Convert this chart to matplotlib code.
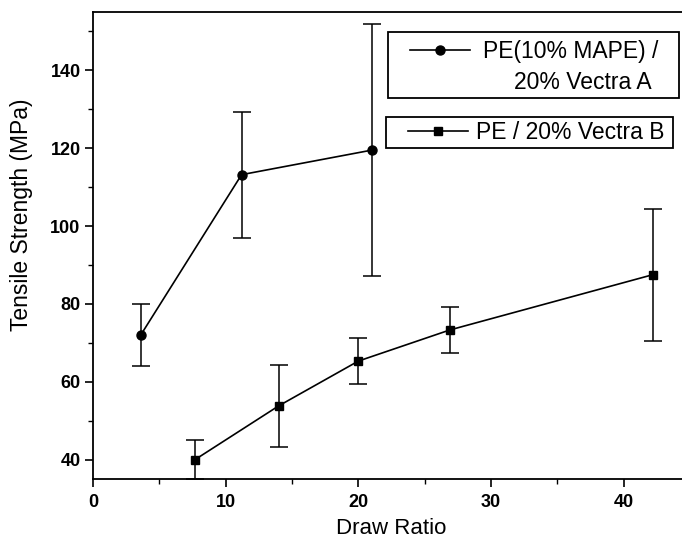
import matplotlib

matplotlib.use("Agg")
import matplotlib.pyplot as plt
from matplotlib.patches import Rectangle
from matplotlib.ticker import MultipleLocator

# PE(10% MAPE) / 20% Vectra A
draw_a = [3.6, 11.2, 21.0]
strength_a = [72.0, 113.2, 119.5]
err_a = [8.0, 16.2, 32.3]

# PE / 20% Vectra B
draw_b = [7.7, 14.0, 20.0, 26.9, 42.2]
strength_b = [40.0, 53.8, 65.3, 73.3, 87.5]
err_b = [5.1, 10.6, 6.0, 6.0, 17.0]

label_a = "PE(10% MAPE) /"
label_a2 = "20% Vectra A"
label_b = "PE / 20% Vectra B"

plt.rcParams.update({
    "font.family": ["Liberation Sans", "DejaVu Sans"],
    "axes.linewidth": 1.3,
})

fig = plt.figure(figsize=(6.82, 5.43), dpi=100)
ax = fig.add_axes([93 / 682, 64 / 543, 597 / 682, 467 / 543])

ax.errorbar(draw_a, strength_a, yerr=err_a, fmt="none", ecolor="black",
            elinewidth=1.1, capsize=6.5, capthick=1.1)
ax.errorbar(draw_b, strength_b, yerr=err_b, fmt="none", ecolor="black",
            elinewidth=1.1, capsize=6.5, capthick=1.1)
line_a, = ax.plot(draw_a, strength_a, "-o", color="black", lw=1.2, ms=6.5)
line_b, = ax.plot(draw_b, strength_b, "-s", color="black", lw=1.2, ms=6)

ax.set_xlim(0, 45)
ax.set_ylim(35, 155)
ax.spines["right"].set_visible(False)
ax.xaxis.set_major_locator(MultipleLocator(10))
ax.xaxis.set_minor_locator(MultipleLocator(5))
ax.yaxis.set_major_locator(MultipleLocator(20))
ax.yaxis.set_minor_locator(MultipleLocator(10))
ax.set_yticks([40, 60, 80, 100, 120, 140])
ax.tick_params(which="major", direction="out", length=6, width=1.2,
               labelsize=13, pad=3)
ax.tick_params(axis="x", which="major", pad=5)
ax.tick_params(which="minor", direction="out", length=3.5, width=1.0)
for lab in ax.get_xticklabels() + ax.get_yticklabels():
    lab.set_fontweight("bold")

ax.set_xlabel("Draw Ratio", fontsize=16)
ax.set_ylabel("Tensile Strength (MPa)", fontsize=16.5)
ax.xaxis.set_label_coords(0.5, -0.083)
ax.yaxis.set_label_coords(-0.10, 0.565)

# legend boxes (two separate framed entries)
leg_a = ax.legend([line_a], [label_a], loc="center left",
                  bbox_to_anchor=(0.531, 0.916), frameon=False, borderpad=0,
                  borderaxespad=0, handlelength=2.6, handletextpad=0.6,
                  fontsize=16.5)
ax.add_artist(leg_a)
ax.text(0.936, 0.848, label_a2, transform=ax.transAxes, ha="right",
        va="center", fontsize=16.5)
ax.legend([line_b], [label_b], loc="center left",
          bbox_to_anchor=(0.528, 0.741), frameon=False, borderpad=0,
          borderaxespad=0, handlelength=2.6, handletextpad=0.36,
          fontsize=16.5)
ax.add_patch(Rectangle((0.494, 0.816), 0.488, 0.141, transform=ax.transAxes,
                       fill=False, lw=1.3, ec="black", clip_on=False))
ax.add_patch(Rectangle((0.491, 0.709), 0.481, 0.066, transform=ax.transAxes,
                       fill=False, lw=1.3, ec="black", clip_on=False))

fig.savefig("out.png", dpi=100)
